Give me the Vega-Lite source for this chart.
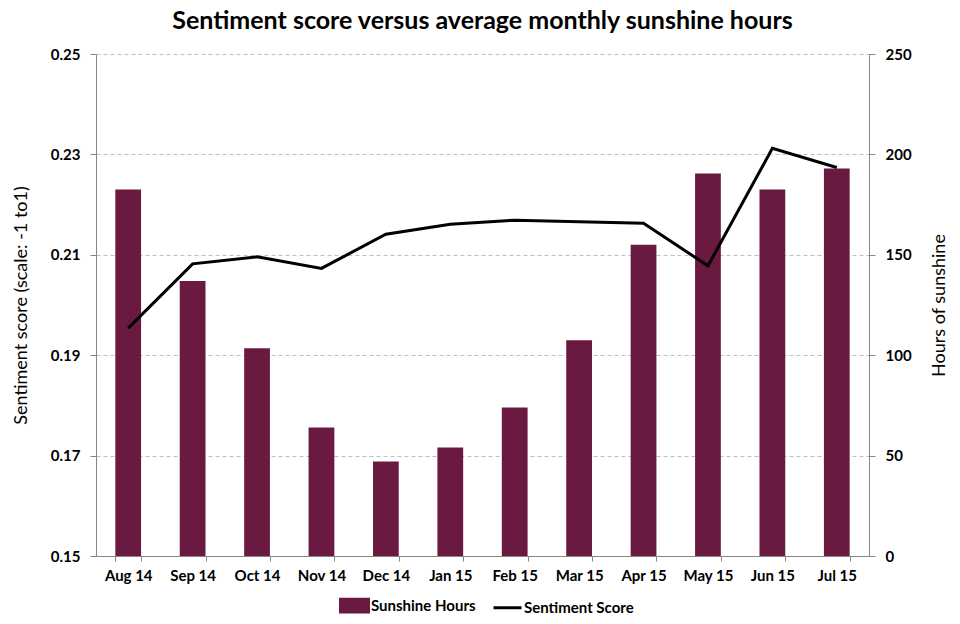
{
  "$schema": "https://vega.github.io/schema/vega-lite/v6.json",
  "width": 773,
  "height": 502,
  "autosize": {"type": "none"},
  "padding": {"left": 96, "top": 54, "right": 91, "bottom": 68},
  "background": "white",
  "title": {"text": "Sentiment score versus average monthly sunshine hours", "font": "Lato", "fontSize": 25, "fontWeight": "bold", "color": "#000000", "anchor": "middle", "offset": 13},
  "config": {"view": {"stroke": null}, "font": "Lato"},
  "data": {"values": [
    {"month": "Aug 14", "hours": 182.5, "score": 0.1954},
    {"month": "Sep 14", "hours": 137, "score": 0.2082},
    {"month": "Oct 14", "hours": 103.5, "score": 0.2096},
    {"month": "Nov 14", "hours": 64, "score": 0.2073},
    {"month": "Dec 14", "hours": 47, "score": 0.2141},
    {"month": "Jan 15", "hours": 54, "score": 0.2161},
    {"month": "Feb 15", "hours": 74, "score": 0.2169},
    {"month": "Mar 15", "hours": 107.5, "score": 0.2166},
    {"month": "Apr 15", "hours": 155, "score": 0.2163},
    {"month": "May 15", "hours": 190.5, "score": 0.2078},
    {"month": "Jun 15", "hours": 182.5, "score": 0.2312},
    {"month": "Jul 15", "hours": 193, "score": 0.2274}
  ]},
  "encoding": {
    "x": {"field": "month", "type": "ordinal", "sort": null,
      "scale": {"paddingInner": 0.6, "paddingOuter": 0.3},
      "axis": {"title": null, "labelAngle": 0, "labelFont": "Lato", "labelFontWeight": "bold", "labelFontSize": 15, "labelColor": "#000000", "tickBand": "extent", "domainColor": "#868686", "tickColor": "#868686", "tickSize": 5, "labelPadding": 7, "grid": false}}
  },
  "layer": [
    {
      "mark": {"type": "bar"},
      "encoding": {
        "y": {"field": "hours", "type": "quantitative",
          "scale": {"domain": [0, 250], "nice": false},
          "axis": {"orient": "right", "values": [0, 50, 100, 150, 200, 250], "grid": false, "title": "Hours of sunshine", "titleAngle": 270, "titleFont": "Lato", "titleFontSize": 18, "titleFontWeight": "normal", "titleColor": "#000000", "titlePadding": 37, "labelFont": "Lato", "labelFontWeight": "bold", "labelFontSize": 15, "labelColor": "#000000", "labelPadding": 10, "domainColor": "#868686", "tickColor": "#868686", "tickSize": 6}},
        "color": {"datum": "Sunshine Hours",
          "scale": {"domain": ["Sunshine Hours", "Sentiment Score"], "range": ["#6A1A41", "#000000"]},
          "legend": {"title": null, "orient": "none", "legendX": 243, "legendY": 536, "direction": "horizontal", "labelFont": "Lato", "labelFontSize": 15, "labelFontWeight": "bold", "labelColor": "#000000", "symbolSize": 784, "columnPadding": 11, "labelOffset": 1,
            "encode": {"symbols": {"update": {
              "shape": {"signal": "datum.value === 'Sunshine Hours' ? 'M-1,-0.45H1V0.45H-1Z' : 'M-1,0H1'"},
              "fill": {"signal": "datum.value === 'Sunshine Hours' ? '#6A1A41' : 'transparent'"},
              "stroke": {"signal": "datum.value === 'Sunshine Hours' ? 'transparent' : '#000000'"},
              "strokeWidth": {"value": 3}}}}}}
      }
    },
    {
      "mark": {"type": "line", "strokeWidth": 3},
      "encoding": {
        "y": {"field": "score", "type": "quantitative",
          "scale": {"domain": [0.15, 0.25], "nice": false, "zero": false},
          "axis": {"orient": "left", "values": [0.15, 0.17, 0.19, 0.21, 0.23, 0.25], "format": ".2f", "grid": true, "gridColor": "#BFBFBF", "gridDash": [4, 3], "title": "Sentiment score (scale: -1 to1)", "titleFont": "Lato", "titleFontSize": 18, "titleFontWeight": "normal", "titleColor": "#000000", "titlePadding": 20, "labelFont": "Lato", "labelFontWeight": "bold", "labelFontSize": 15, "labelColor": "#000000", "labelPadding": 10, "domainColor": "#868686", "tickColor": "#868686", "tickSize": 6}},
        "color": {"datum": "Sentiment Score"}
      }
    }
  ],
  "resolve": {"scale": {"y": "independent"}}
}
